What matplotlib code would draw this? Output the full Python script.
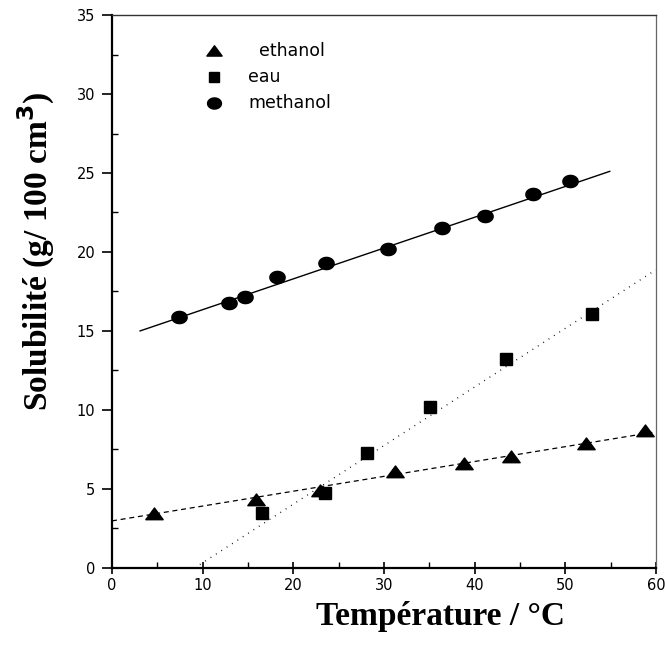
import matplotlib.pyplot as plt
from matplotlib.path import Path
import numpy as np

# solubility (g / 100 cm3) versus temperature (degC)
t_methanol = [7.4, 12.9, 14.7, 18.2, 23.6, 30.4, 36.4, 41.1, 46.4, 50.5]
s_methanol = [15.9, 16.75, 17.15, 18.4, 19.3, 20.2, 21.5, 22.3, 23.65, 24.5]

t_eau = [16.55, 23.5, 28.1, 35.1, 43.5, 52.9]
s_eau = [3.45, 4.75, 7.28, 10.2, 13.2, 16.1]

t_ethanol = [4.6, 15.9, 22.9, 31.2, 38.8, 44.0, 52.3, 58.8]
s_ethanol = [3.4, 4.3, 4.9, 6.1, 6.55, 7.0, 7.85, 8.7]

# fitted lines: (slope, intercept, t_start, t_end)
fit_methanol = (0.195, 14.4, 3.1, 54.9)
fit_eau = (0.371, -3.38, 9.1, 60.0)
fit_ethanol = (0.094, 2.98, 0.0, 60.0)

# slightly flattened markers
_th = np.linspace(0, 2 * np.pi, 41)
ELLIPSE = Path(np.column_stack([np.cos(_th), 0.8 * np.sin(_th)]), closed=True)
TRIANGLE = Path([(-1, -0.6), (1, -0.6), (0, 0.75), (-1, -0.6)], closed=True)


def draw_fit(ax, fit, **kw):
    a, b, t0, t1 = fit
    t = np.array([t0, t1])
    ax.plot(t, a * t + b, color='black', **kw)


def main():
    fig = plt.figure(figsize=(6.65, 6.64), dpi=100)
    ax = fig.add_axes([0.1684, 0.1446, 0.8181, 0.8328])

    draw_fit(ax, fit_methanol, lw=1.0, ls='-')
    draw_fit(ax, fit_ethanol, lw=0.9, ls=(0, (4, 3)))
    draw_fit(ax, fit_eau, lw=1.0, ls=(0, (0.6, 4)))

    ax.plot(t_ethanol, s_ethanol, marker=TRIANGLE, color='black', ms=12.5,
            ls='none')
    ax.plot(t_eau, s_eau, 's', color='black', ms=8, ls='none')
    ax.plot(t_methanol, s_methanol, marker=ELLIPSE, color='black', ms=11,
            ls='none')

    ax.set_xlim(0, 60)
    ax.set_ylim(0, 35)
    ax.set_xticks(np.arange(0, 61, 10))
    ax.set_xticks(np.arange(0, 61, 5), minor=True)
    ax.set_yticks(np.arange(0, 36, 5))
    ax.set_yticks(np.arange(0, 36, 2.5), minor=True)
    ax.tick_params(axis='x', which='major', direction='inout', length=9,
                   width=1.2, labelsize=10.5, pad=3)
    ax.tick_params(axis='y', which='major', direction='out', length=7,
                   width=1.2, labelsize=10.5, pad=5)
    ax.tick_params(which='minor', direction='in', length=4, width=1)
    for lab in ax.get_xticklabels() + ax.get_yticklabels():
        lab.set_family('DejaVu Sans')

    for side in ['left', 'bottom']:
        ax.spines[side].set_linewidth(1.6)
    ax.spines['top'].set_linewidth(1.0)
    ax.spines['top'].set_color('#333333')
    ax.spines['right'].set_linewidth(0.9)
    ax.spines['right'].set_color('#666666')

    # legend drawn by hand, markers and names in the upper left
    ax.plot([11.3], [32.7], marker=TRIANGLE, color='black', ms=11)
    ax.plot([11.3], [31.1], 's', color='black', ms=7)
    ax.plot([11.3], [29.45], marker=ELLIPSE, color='black', ms=10)
    ax.text(16.2, 32.7, 'ethanol', fontsize=12.5, va='center',
            family='DejaVu Sans')
    ax.text(15.0, 31.1, 'eau', fontsize=12.5, va='center',
            family='DejaVu Sans')
    ax.text(15.0, 29.45, 'methanol', fontsize=12.5, va='center',
            family='DejaVu Sans')

    fig.text(0.662, 0.071, 'Température / °C', ha='center', va='center',
             fontsize=24, fontweight='bold', family='Liberation Serif')
    fig.text(0.055, 0.622, 'Solubilité (g/ 100 cm$^\\mathbf{3}$)',
             ha='center', va='center', rotation=90, fontsize=24,
             fontweight='bold', family='Liberation Serif')

    fig.savefig('out.png', dpi=100)


if __name__ == "__main__":
    main()
